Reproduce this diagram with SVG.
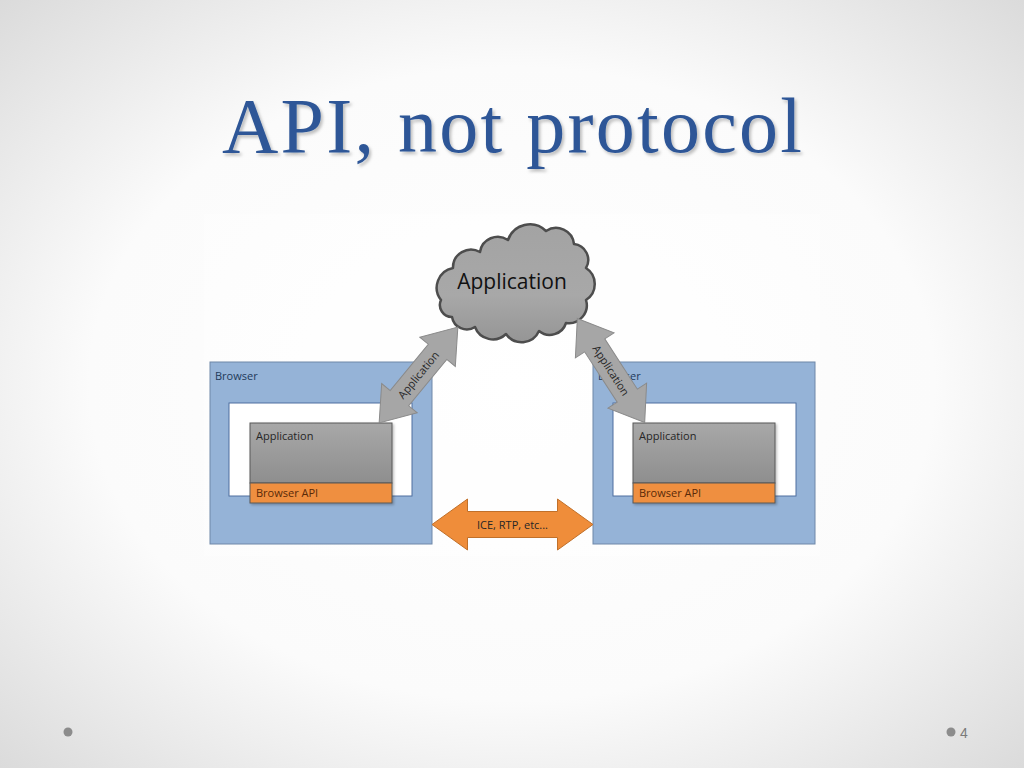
<svg xmlns="http://www.w3.org/2000/svg" width="1024" height="768" viewBox="0 0 1024 768">
  <defs>
    <radialGradient id="bg" cx="50%" cy="50%" r="75%">
      <stop offset="0" stop-color="#ffffff"/>
      <stop offset="0.55" stop-color="#fbfbfb"/>
      <stop offset="1" stop-color="#d6d6d6"/>
    </radialGradient>
    <linearGradient id="appGrad" x1="0" y1="0" x2="0" y2="1">
      <stop offset="0" stop-color="#a8a8a8"/>
      <stop offset="1" stop-color="#8e8e8e"/>
    </linearGradient>
    <linearGradient id="cloudGrad" x1="0" y1="0" x2="0" y2="1">
      <stop offset="0" stop-color="#a3a3a3"/>
      <stop offset="0.6" stop-color="#a8a8a8"/>
      <stop offset="1" stop-color="#959595"/>
    </linearGradient>
    <filter id="shadow" x="-10%" y="-20%" width="120%" height="150%">
      <feDropShadow dx="2" dy="2.5" stdDeviation="1.5" flood-color="#000" flood-opacity="0.25"/>
    </filter>
    <filter id="softShadow" x="-10%" y="-10%" width="130%" height="130%">
      <feDropShadow dx="1.5" dy="1.5" stdDeviation="1" flood-color="#000" flood-opacity="0.25"/>
    </filter>
  </defs>
  <style>
    .browser { fill: #95b3d7; stroke: #6f87a8; stroke-width: 1; }
    .inner { fill: #ffffff; stroke: #4f6f9f; stroke-width: 1; }
    .app { fill: url(#appGrad); stroke: #595959; stroke-width: 1; }
    .api { fill: #ef8f3f; stroke: #595959; stroke-width: 1; }
    .small { font-family: "Open Sans", "DejaVu Sans", sans-serif; font-size: 11px; }
    .lbl-browser { fill: #1f3a5a; }
    .lbl-app { fill: #262626; }
    .lbl-api { fill: #5a2a08; }
    .garrow { fill: #a6a6a6; stroke: #8a8a8a; stroke-width: 1; }
    .oarrow { fill: #ef8d3a; stroke: #c0702a; stroke-width: 1; }
    .arrowtext { font-family: "Open Sans", "DejaVu Sans", sans-serif; font-size: 11px; fill: #262626; text-anchor: middle; }
    .dot { fill: #8c8c8c; }
  </style>

  <rect x="0" y="0" width="1024" height="768" fill="url(#bg)"/>
  <rect x="204" y="214" width="616" height="342" fill="#ffffff" opacity="0.35"/>

  <text x="512" y="152" text-anchor="middle" font-family="'Liberation Serif', 'DejaVu Serif', serif" font-size="78" fill="#2e5797" textLength="580" lengthAdjust="spacing" filter="url(#shadow)">API, not protocol</text>

  <g id="browser-left">
    <rect class="browser" x="210" y="362" width="222" height="182"/>
    <text class="small lbl-browser" x="215" y="380">Browser</text>
    <rect class="inner" x="229" y="403" width="183" height="93"/>
    <g filter="url(#softShadow)">
      <rect class="app" x="250" y="423" width="142" height="60"/>
      <rect class="api" x="250" y="483" width="142" height="20"/>
    </g>
    <text class="small lbl-app" x="256" y="440">Application</text>
    <text class="small lbl-api" x="256" y="497">Browser API</text>
  </g>

  <g id="browser-right">
    <rect class="browser" x="593" y="362" width="222" height="182"/>
    <text class="small lbl-browser" x="598" y="380">Browser</text>
    <rect class="inner" x="613" y="403" width="183" height="93"/>
    <g filter="url(#softShadow)">
      <rect class="app" x="633" y="423" width="142" height="60"/>
      <rect class="api" x="633" y="483" width="142" height="20"/>
    </g>
    <text class="small lbl-app" x="639" y="440">Application</text>
    <text class="small lbl-api" x="639" y="497">Browser API</text>
  </g>

  <g id="cloud">
    <path fill="url(#cloudGrad)" stroke="#4d4d4d" stroke-width="2.5" stroke-linejoin="round"
      d="M441,300 A20,20 0 0 1 453,268 A18,18 0 0 1 480,252 A18,18 0 0 1 508,240 A23,23 0 0 1 546,231 A18,18 0 0 1 574,244 A16,16 0 0 1 586,268 A19,19 0 0 1 586,300 A18,18 0 0 1 566,323 A17,17 0 0 1 539,331 A19,19 0 0 1 506,334 A19,19 0 0 1 475,327 A15,15 0 0 1 452,317 A12,12 0 0 1 441,300 Z"/>
    <text x="512" y="289" text-anchor="middle" font-family="'Open Sans', 'DejaVu Sans', sans-serif" font-size="21" fill="#111111">Application</text>
  </g>

  <g id="connectors">
    <g transform="translate(418.5,375) rotate(-50.6)">
      <polygon class="garrow" points="-62,0 -30,-23 -30,-12 30,-12 30,-23 62,0 30,23 30,12 -30,12 -30,23"/>
      <text class="arrowtext" x="0" y="4">Application</text>
    </g>
    <g transform="translate(611,370.5) rotate(57.1)">
      <polygon class="garrow" points="-62,0 -30,-23 -30,-12 30,-12 30,-23 62,0 30,23 30,12 -30,12 -30,23"/>
      <text class="arrowtext" x="0" y="4">Application</text>
    </g>
    <g transform="translate(512.5,524.5)">
      <polygon class="oarrow" points="-80.5,0 -45,-25.5 -45,-13 45,-13 45,-25.5 80.5,0 45,25.5 45,13 -45,13 -45,25.5"/>
      <text class="arrowtext" x="0" y="4">ICE, RTP, etc...</text>
    </g>
  </g>

  <circle class="dot" cx="68" cy="732" r="4.5"/>
  <circle class="dot" cx="951" cy="732" r="4.5"/>
  <text x="960" y="738" font-family="'Liberation Sans', 'DejaVu Sans', sans-serif" font-size="14" fill="#7a7a7a">4</text>
</svg>
